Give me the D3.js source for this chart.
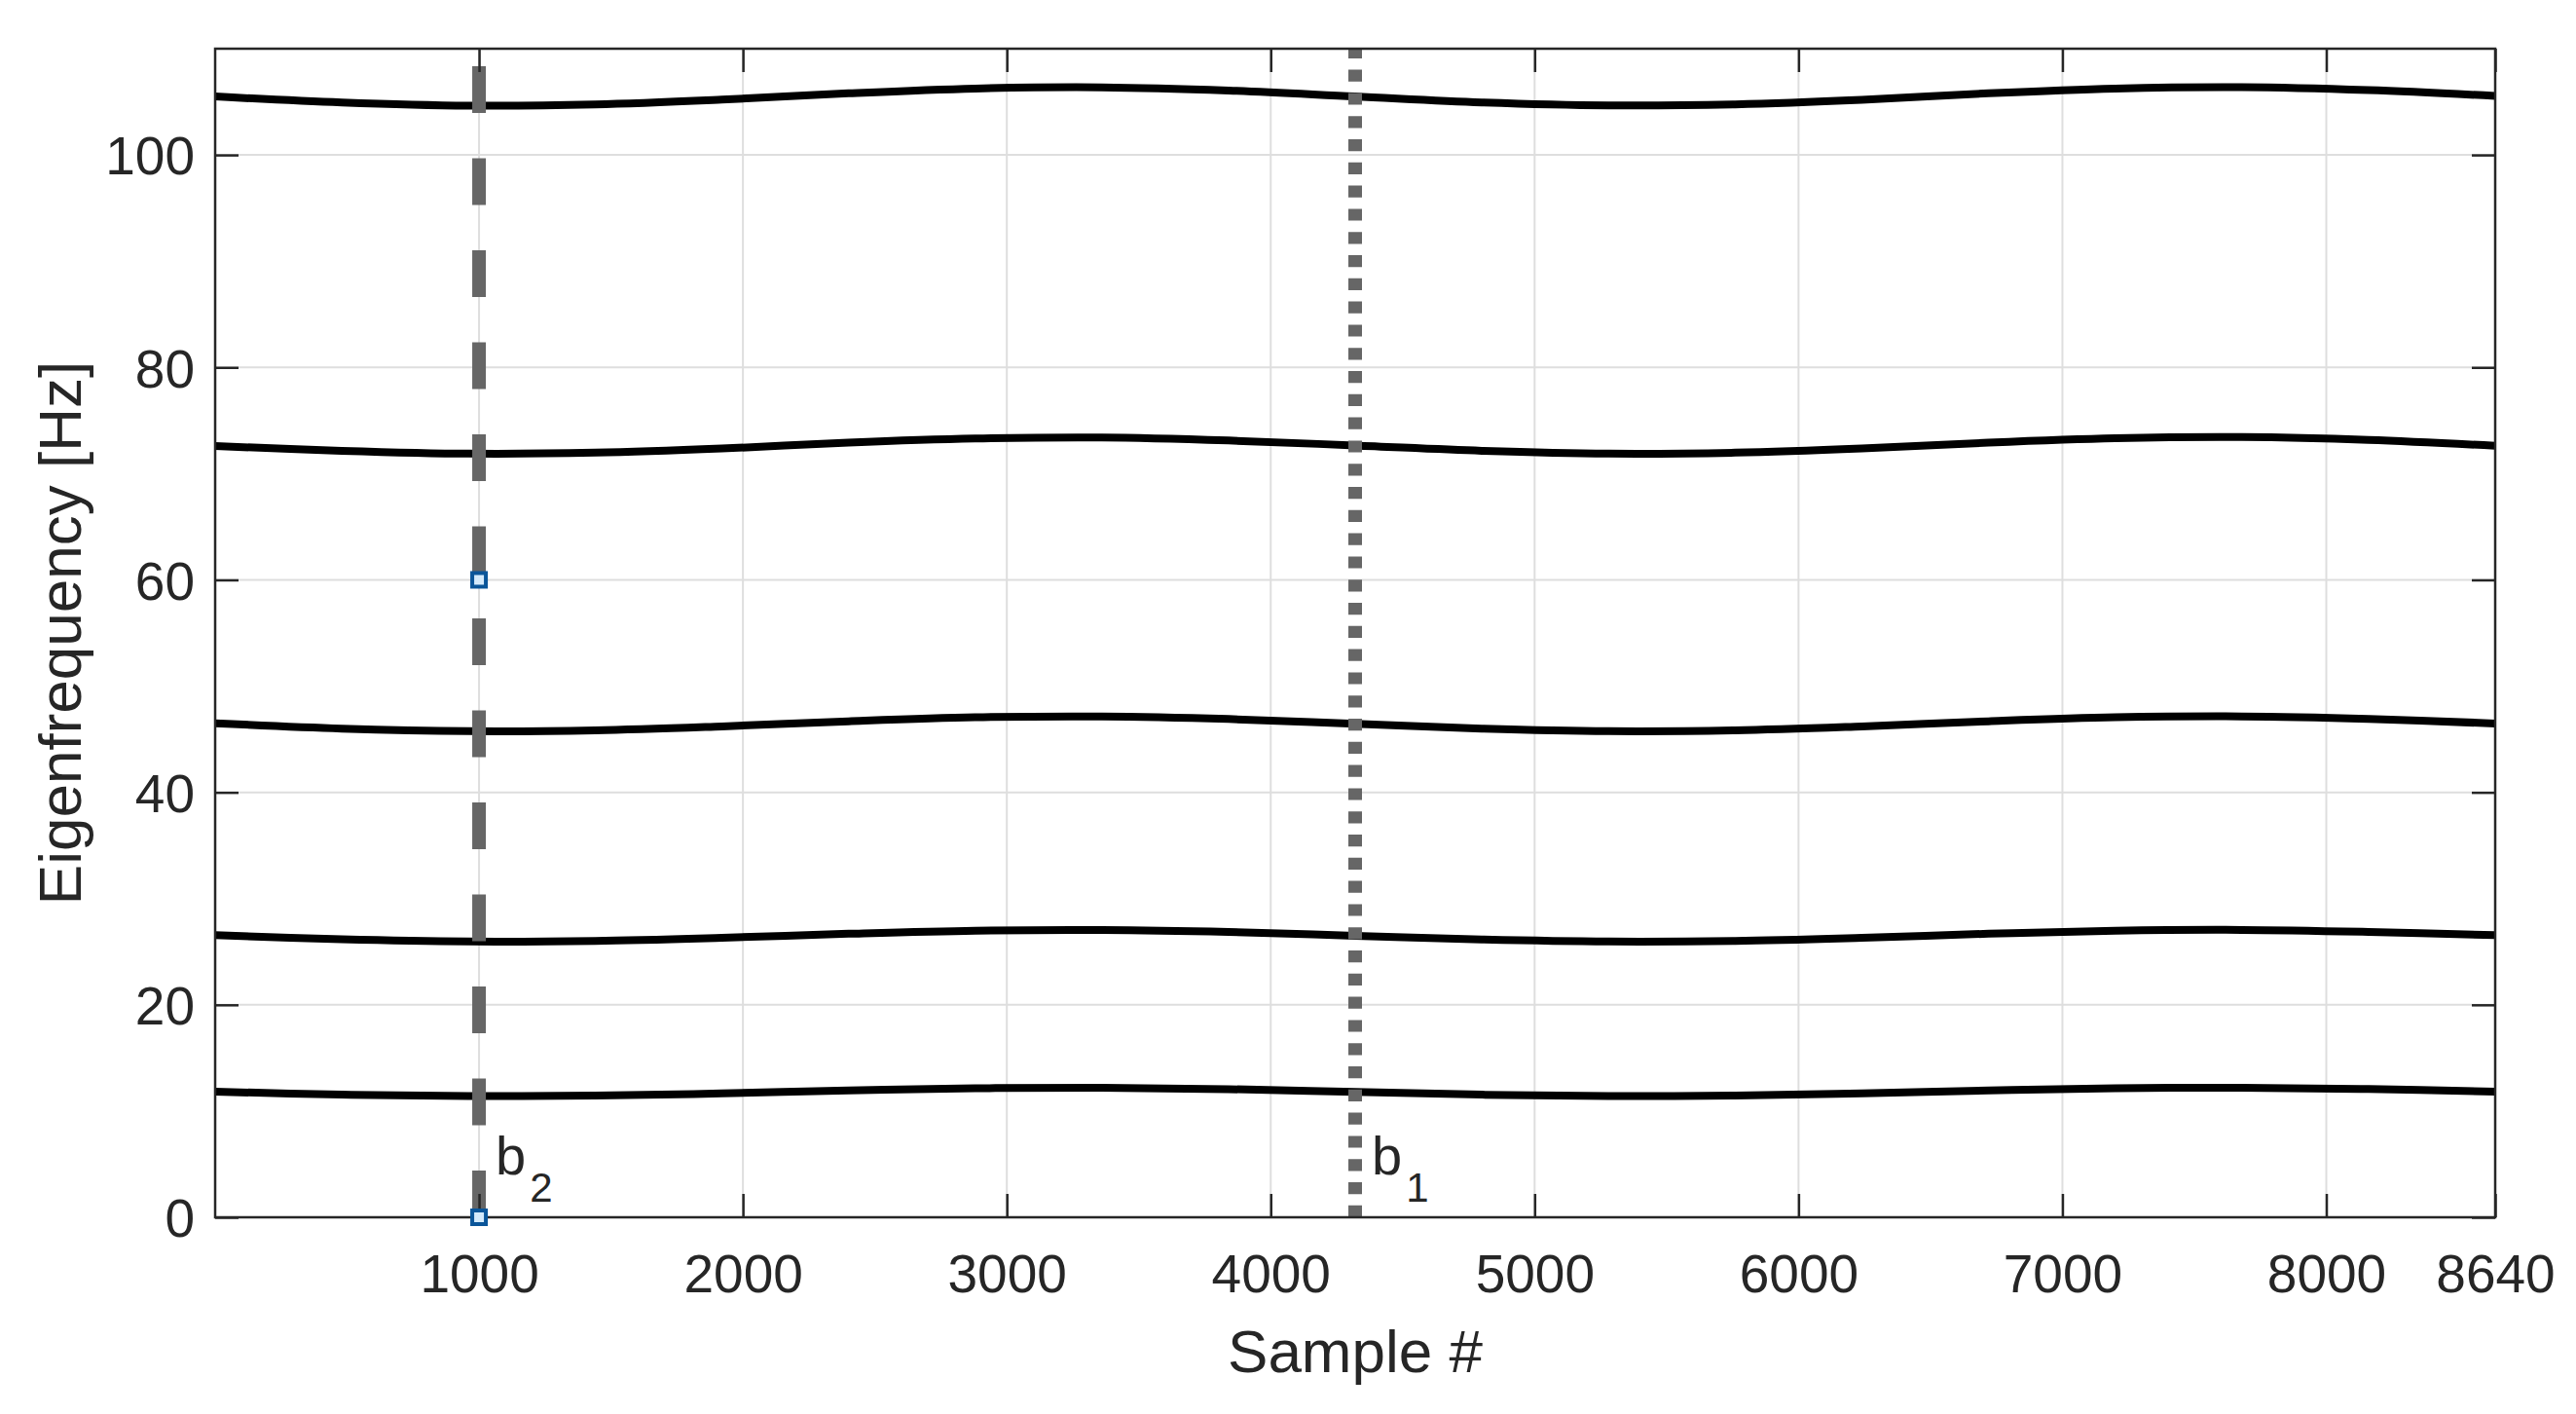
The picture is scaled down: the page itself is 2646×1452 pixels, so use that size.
<!DOCTYPE html>
<html>
<head>
<meta charset="utf-8">
<script src="https://cdn.jsdelivr.net/npm/d3@7"></script>
<style>
  html, body { margin: 0; padding: 0; background: #ffffff; }
  svg { display: block; }
  text { font-family: "Liberation Sans", Arial, Helvetica, sans-serif; fill: #262626; }
</style>
</head>
<body>
<svg id="chart" width="2646" height="1452"></svg>
<script>
// ---- data ----
const samples = [0, 480, 960, 1440, 1920, 2400, 2880, 3360, 3840, 4320, 4800, 5280, 5760, 6240, 6720, 7200, 7680, 8160, 8640];
const mode1 = [11.82, 11.55, 11.42, 11.45, 11.66, 11.94, 12.14, 12.19, 12.06, 11.80, 11.54, 11.41, 11.45, 11.66, 11.94, 12.15, 12.20, 12.07, 11.82];
const mode2 = [26.55, 26.16, 25.96, 26.02, 26.31, 26.69, 26.98, 27.04, 26.86, 26.50, 26.15, 25.96, 26.02, 26.31, 26.69, 26.98, 27.05, 26.86, 26.55];
const mode3 = [46.50, 46.00, 45.76, 45.84, 46.21, 46.69, 47.06, 47.14, 46.90, 46.45, 46.00, 45.76, 45.84, 46.21, 46.69, 47.06, 47.15, 46.92, 46.48];
const mode4 = [72.60, 72.15, 71.88, 71.97, 72.36, 72.92, 73.30, 73.40, 73.12, 72.65, 72.15, 71.88, 71.97, 72.36, 72.92, 73.33, 73.44, 73.18, 72.62];
const mode5 = [105.50, 104.94, 104.64, 104.75, 105.20, 105.80, 106.25, 106.36, 106.06, 105.50, 104.94, 104.66, 104.76, 105.18, 105.80, 106.25, 106.38, 106.10, 105.56];
const modes = [mode1, mode2, mode3, mode4, mode5];

const xTicks = [1000, 2000, 3000, 4000, 5000, 6000, 7000, 8000, 8640];
const yTicks = [0, 20, 40, 60, 80, 100];
const xDomain = [0, 8640];
const yDomain = [0, 110];

const boundaries = [
  { name: "b", sub: "2", x: 1000, dash: "48,46.5" },
  { name: "b", sub: "1", x: 4320, dash: "12.2,11.6" }
];
const markerX = [1000, 1000];
const markerY = [0, 60];

const xLabel = "Sample #";
const yLabel = "Eigenfrequency [Hz]";

// ---- layout ----
const L = 221, R = 2563, T = 50, B = 1250;
const svg = d3.select("#chart");
const x = d3.scaleLinear().domain(xDomain).range([L, R]);
const y = d3.scaleLinear().domain(yDomain).range([B, T]);

const axisColor = "#262626";
const gridColor = "#dedede";

// grid
const grid = svg.append("g");
grid.selectAll("line.gx").data(xTicks.filter(d => d < 8640)).enter().append("line")
  .attr("x1", d => x(d)).attr("x2", d => x(d)).attr("y1", T).attr("y2", B)
  .attr("stroke", gridColor).attr("stroke-width", 2);
grid.selectAll("line.gy").data(yTicks.filter(d => d > 0)).enter().append("line")
  .attr("x1", L).attr("x2", R).attr("y1", d => y(d)).attr("y2", d => y(d))
  .attr("stroke", gridColor).attr("stroke-width", 2);

// curves
const line = d3.line().x((d, i) => x(samples[i])).y(d => y(d)).curve(d3.curveCatmullRom.alpha(0.5));
svg.append("g").selectAll("path").data(modes).enter().append("path")
  .attr("d", d => line(d))
  .attr("fill", "none").attr("stroke", "#000000").attr("stroke-width", 8)
  .attr("stroke-linejoin", "round");

// boundary lines
svg.append("g").selectAll("line").data(boundaries).enter().append("line")
  .attr("x1", d => x(d.x)).attr("x2", d => x(d.x))
  .attr("y1", y(yDomain[0])).attr("y2", y(yDomain[1]))
  .attr("stroke", "#666666").attr("stroke-width", 14)
  .attr("stroke-dasharray", d => d.dash);

// axes (box + inward ticks) using d3 axes
const tickLen = 24;
const fontSize = 55;
const gx = svg.append("g").attr("transform", `translate(0,${B})`)
  .call(d3.axisBottom(x).tickValues(xTicks).tickSize(-tickLen).tickPadding(0).tickFormat(d3.format("d")));
gx.select(".domain").remove();
gx.selectAll(".tick line").attr("stroke", axisColor).attr("stroke-width", 2.5);
gx.selectAll(".tick text").attr("font-size", fontSize).attr("fill", axisColor)
  .attr("y", 77).attr("dy", 0).attr("font-family", "'Liberation Sans', Arial, sans-serif");

const gxt = svg.append("g").attr("transform", `translate(0,${T})`)
  .call(d3.axisTop(x).tickValues(xTicks).tickSize(-tickLen).tickFormat(""));
gxt.select(".domain").remove();
gxt.selectAll(".tick line").attr("stroke", axisColor).attr("stroke-width", 2.5);

const gy = svg.append("g").attr("transform", `translate(${L},0)`)
  .call(d3.axisLeft(y).tickValues(yTicks).tickSize(-tickLen).tickPadding(0).tickFormat(d3.format("d")));
gy.select(".domain").remove();
gy.selectAll(".tick line").attr("stroke", axisColor).attr("stroke-width", 2.5);
gy.selectAll(".tick text").attr("font-size", fontSize).attr("fill", axisColor)
  .attr("x", -21).attr("dy", "0.36em").attr("font-family", "'Liberation Sans', Arial, sans-serif");

const gyr = svg.append("g").attr("transform", `translate(${R},0)`)
  .call(d3.axisRight(y).tickValues(yTicks).tickSize(-tickLen).tickFormat(""));
gyr.select(".domain").remove();
gyr.selectAll(".tick line").attr("stroke", axisColor).attr("stroke-width", 2.5);

svg.append("rect").attr("x", L).attr("y", T).attr("width", R - L).attr("height", B - T)
  .attr("fill", "none").attr("stroke", axisColor).attr("stroke-width", 2.5);

// markers
svg.append("g").selectAll("rect").data(markerX).enter().append("rect")
  .attr("x", (d) => x(d) - 7).attr("y", (d, i) => y(markerY[i]) - 7)
  .attr("width", 14).attr("height", 14)
  .attr("fill", "#d4eafb").attr("stroke", "#0a5599").attr("stroke-width", 4);

// boundary labels
const lbl = svg.append("g").selectAll("text").data(boundaries).enter().append("text")
  .attr("x", d => x(d.x) + 17).attr("y", 1206).attr("font-size", 56);
lbl.append("tspan").text(d => d.name);
lbl.append("tspan").attr("dx", 4).attr("dy", 28).attr("font-size", 42).text(d => d.sub);

// axis titles
svg.append("text").attr("x", (L + R) / 2).attr("y", 1409).attr("text-anchor", "middle")
  .attr("font-size", 62).text(xLabel);
svg.append("text").attr("transform", `translate(83,${(T + B) / 2}) rotate(-90)`)
  .attr("text-anchor", "middle").attr("font-size", 62).text(yLabel);
</script>
</body>
</html>
